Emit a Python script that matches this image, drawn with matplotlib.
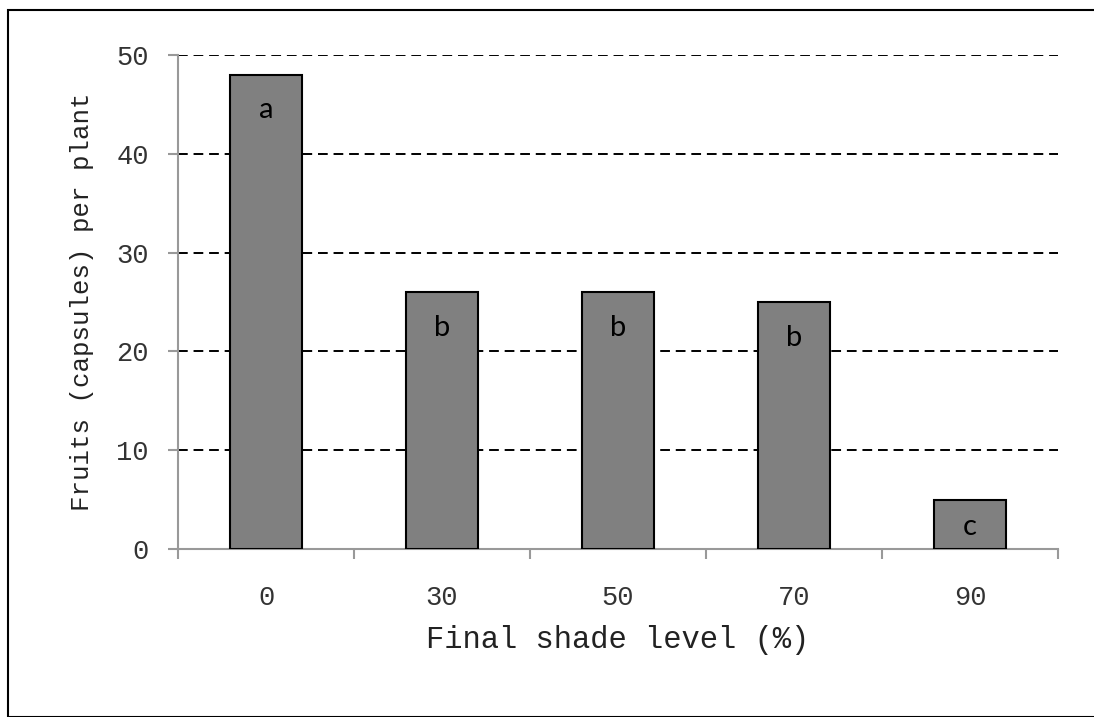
import matplotlib.pyplot as plt
from matplotlib.patches import Rectangle

shade_levels = ["0", "30", "50", "70", "90"]
fruits = [48, 26, 26, 25, 5]
groups = ["a", "b", "b", "b", "c"]

mono = "Liberation Mono"

fig = plt.figure(figsize=(10.94, 7.17), dpi=100)
ax = fig.add_axes([178 / 1094, 1 - 549 / 717, 880 / 1094, 494 / 717])

x = list(range(len(shade_levels)))
ax.bar(x, fruits, width=0.41, color="#808080", edgecolor="black", linewidth=1.5, zorder=3)

# letters inside the bars (short bars get them nearer the middle)
for xi, v, g in zip(x, fruits, groups):
    ty = v - 3.6 if v > 10 else v * 0.45
    ax.text(xi, ty, g, ha="center", va="center", fontsize=21,
            family=["Lato", "DejaVu Sans"], zorder=4)

ax.set_xlim(-0.5, len(x) - 0.5)
ax.set_ylim(0, 50)
ax.set_yticks(range(0, 51, 10))
ax.yaxis.grid(True, linestyle=(0, (5, 3)), color="black", linewidth=1.4)
ax.set_axisbelow(True)

ax.set_xticks(x)
ax.set_xticklabels(shade_levels)
ax.set_xticks([i - 0.5 for i in range(len(x) + 1)], minor=True)
ax.tick_params(axis="x", which="major", length=0, pad=26)
ax.tick_params(axis="x", which="minor", direction="out", length=7, color="#999999", width=1.5)
ax.tick_params(axis="y", direction="out", length=7, color="#999999", width=1.5, pad=14)
for lab in ax.get_xticklabels() + ax.get_yticklabels():
    lab.set_family(mono)
    lab.set_fontsize(19.5)
    lab.set_color("#333333")

for s in ["top", "right"]:
    ax.spines[s].set_visible(False)
for s in ["left", "bottom"]:
    ax.spines[s].set_color("#999999")
    ax.spines[s].set_linewidth(1.5)

ax.set_xlabel("Final shade level (%)", family=mono, fontsize=22, labelpad=10, color="#222222")
ax.set_ylabel("Fruits (capsules) per plant", family=mono, fontsize=18.5, labelpad=16, color="#222222")

fig.patches.append(Rectangle((8 / 1094, 0), 1090 / 1094, 1 - 10 / 717,
                             transform=fig.transFigure, fill=False,
                             edgecolor="black", linewidth=1.5))

fig.savefig("out.png", dpi=100)
